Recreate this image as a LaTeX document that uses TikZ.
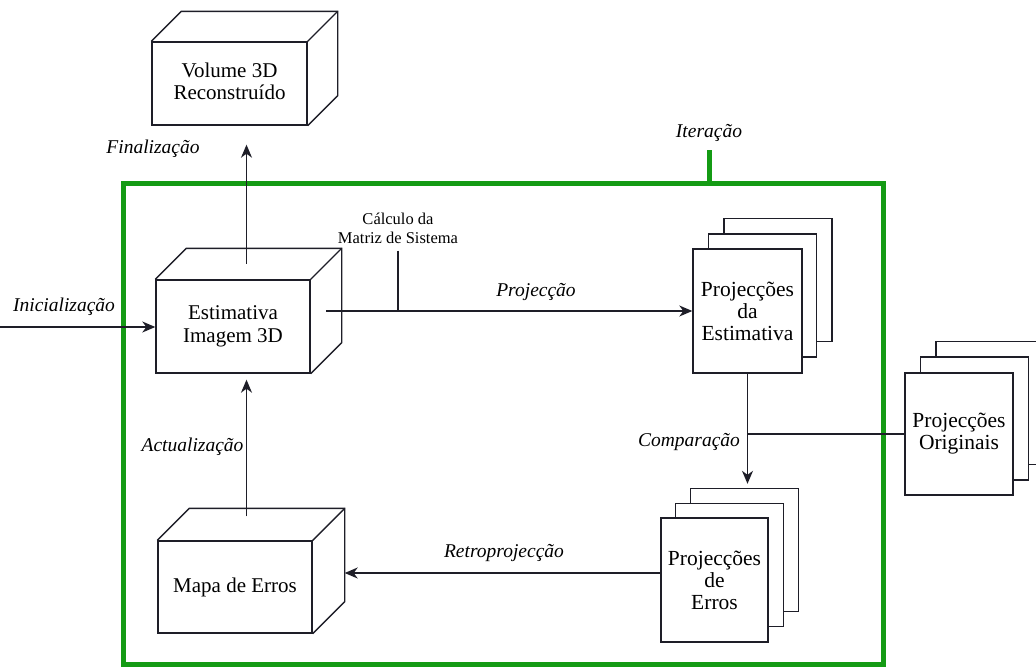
\documentclass[tikz,border=0pt]{standalone}
\usepackage{fontspec}
\setmainfont{Liberation Serif}
\newfontfamily\tms{Liberation Serif}
\usetikzlibrary{calc,arrows.meta}
\definecolor{itgreen}{RGB}{20,155,20}
\definecolor{ink}{RGB}{30,30,40}
\tikzset{
  face/.style={draw=ink, line width=1.4pt, fill=white, inner sep=0pt, align=center,
    font=\tms\fontsize{21}{23}\selectfont},
  page/.style={draw=ink, line width=1.4pt, fill=white, minimum width=108pt, minimum height=123pt,
    inner sep=0pt, align=center, font=\tms\fontsize{21.5}{22}\selectfont},
  lbl/.style={font=\tms\itshape\fontsize{19.5}{22}\selectfont, inner sep=0pt},
  smalltxt/.style={font=\tms\fontsize{16.5}{19}\selectfont, align=center, inner sep=0pt},
  conn/.style={draw=ink, line width=1.4pt},
  arr/.style={conn, -{Stealth[length=13pt,width=11pt,inset=4pt]}},
  frame/.style={draw=itgreen, line width=5pt},
}
\newcommand\drawcube[2]{%
  \draw[conn, line join=miter] (#1.north west) -- ++(#2,-#2) -- ($(#1.north east)+(#2,-#2)$)
    -- ($(#1.south east)+(#2,-#2)$) -- (#1.south east);
  \draw[conn] (#1.north east) -- ++(#2,-#2);
}
\begin{document}
\begin{tikzpicture}[x=1pt,y=-1pt]
\useasboundingbox (0,0) rectangle (1036,667);

% iteration frame
\node[frame, minimum width=760pt, minimum height=481pt, inner sep=0pt] (iter) at (503.5,423.5) {};
\coordinate (itTop) at (709,150);
\draw[frame] (itTop) -- (itTop |- iter.north);
\node[lbl] (itlbl) at (709,133) {Iteração};

% cubes
\node[face, minimum width=155pt, minimum height=83pt] (vol) at (229.5,83.5) {\raisebox{-7pt}{\begin{tabular}{@{}c@{}}Volume 3D\\[-1pt]Reconstruído\end{tabular}}};
\drawcube{vol}{30}

\node[face, minimum width=154pt, minimum height=93pt] (est) at (233,326.5) {Estimativa\\Imagem 3D};
\drawcube{est}{31}

\node[face, minimum width=154pt, minimum height=92pt] (mapa) at (235,587) {Mapa de Erros};
\drawcube{mapa}{32}

% page stacks
\node[page] (pest3) at (778,280) {};
\node[page] (pest2) at (762.5,295.5) {};
\node[page, minimum width=109pt, minimum height=124pt] (pest) at (747.5,311) {Projecções\\da\\Estimativa};

\node[page] (perr3) at (744.5,550) {};
\node[page] (perr2) at (729.5,565) {};
\node[page, minimum width=107pt, minimum height=124pt] (perr) at (714.5,580) {Projecções\\de\\Erros};

\node[page] (porig3) at (990,403) {};
\node[page] (porig2) at (974.5,418.5) {};
\node[page, minimum height=122pt] (porig) at (959,434) {\raisebox{5pt}{\begin{tabular}{@{}c@{}}Projecções\\Originais\end{tabular}}};

% connectors
\coordinate (initS) at (0,327);
\draw[arr] (initS) -- (initS -| est.west);
\node[lbl] (initlbl) at (64,307) {Inicialização};

\coordinate (estTop) at ($(est.north)+(13.5,-15.5)$);
\draw[arr, shorten >=19pt] (estTop) -- (estTop |- vol.south);
\node[lbl] (finlbl) at (153,149) {Finalização};

\coordinate (mapaTop) at ($(mapa.north)+(11.5,-24)$);
\draw[arr, shorten >=6pt] (mapaTop) -- (mapaTop |- est.south);
\node[lbl] (actlbl) at (192.5,447) {Actualização};

\coordinate (estR) at ($(est.east)+(15.5,-15.5)$);
\draw[arr] (estR) -- (estR -| pest.west);
\node[lbl] (projlbl) at (536,292) {Projecção};

\node[smalltxt] (calc) at (398,228) {Cálculo da\\Matriz de Sistema};
\draw[conn, shorten <=7pt] (calc.south) -- (calc.south |- estR);

\draw[arr, shorten >=4pt] (pest.south) -- (pest.south |- perr3.north);
\draw[conn] (pest.south |- porig.west) -- (porig.west);
\node[lbl] (complbl) at (689,442) {Comparação};

\coordinate (mapaR) at ($(mapa.east)+(32,-14)$);
\draw[arr] (perr.west |- mapaR) -- (mapaR);
\node[lbl] (retrolbl) at (504,553) {Retroprojecção};
\end{tikzpicture}
\end{document}
